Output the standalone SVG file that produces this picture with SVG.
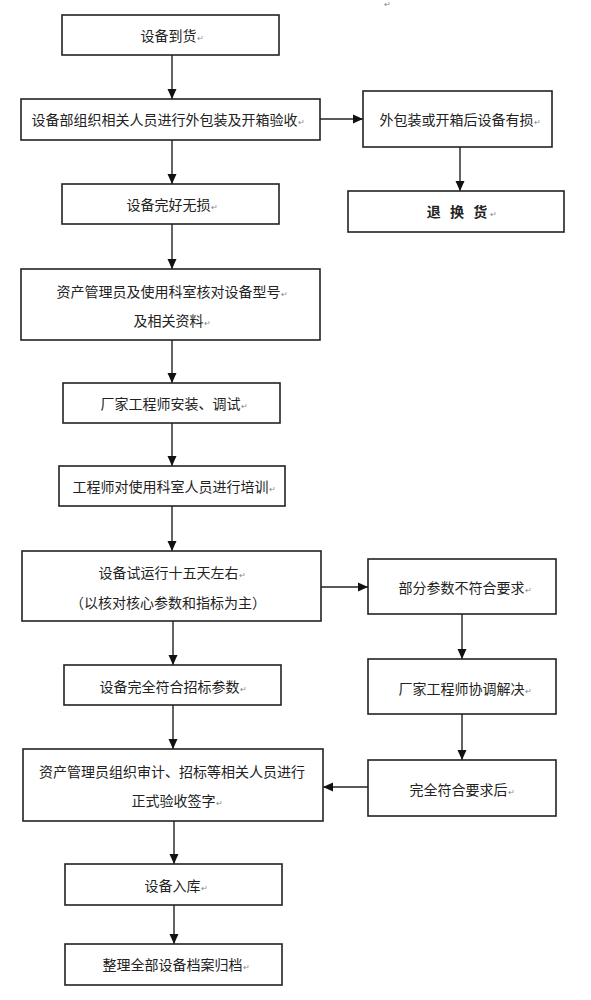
<svg xmlns="http://www.w3.org/2000/svg" width="591" height="1000" viewBox="0 0 591 1000">
<defs>
<marker id="ah" markerWidth="10" markerHeight="10" refX="10" refY="5" orient="auto" markerUnits="userSpaceOnUse">
<path d="M0,0.5 L10,5 L0,9.5 Z" fill="#111"/>
</marker>
<style>
.box{fill:#fff;stroke:#222;stroke-width:1.6}
.t{font-family:"Noto Sans CJK SC","Noto Sans",sans-serif;font-size:14px;fill:#222;text-anchor:middle}
.b{font-weight:bold}
.pm{font-size:8px;fill:#888}
.c{stroke:#222;stroke-width:1.4;fill:none;marker-end:url(#ah)}
</style>
</defs>
<rect width="591" height="1000" fill="#fff"/>
<text x="387" y="7" class="t pm">↵</text>
<g id="connectors">
<line class="c" x1="172" y1="55" x2="172" y2="99"/>
<line class="c" x1="320" y1="119" x2="363" y2="119"/>
<line class="c" x1="460" y1="147" x2="460" y2="191"/>
<line class="c" x1="172" y1="140" x2="172" y2="184"/>
<line class="c" x1="172" y1="224" x2="172" y2="269"/>
<line class="c" x1="172" y1="340" x2="172" y2="383"/>
<line class="c" x1="172" y1="423" x2="172" y2="466"/>
<line class="c" x1="172" y1="506" x2="172" y2="551"/>
<line class="c" x1="321" y1="587" x2="368" y2="587"/>
<line class="c" x1="462" y1="614" x2="462" y2="659"/>
<line class="c" x1="462" y1="714" x2="462" y2="760"/>
<line class="c" x1="368" y1="787" x2="323" y2="787"/>
<line class="c" x1="173" y1="621" x2="173" y2="665"/>
<line class="c" x1="173" y1="705" x2="173" y2="749"/>
<line class="c" x1="174" y1="821" x2="174" y2="864"/>
<line class="c" x1="174" y1="905" x2="174" y2="944"/>
</g>
<g id="n1"><rect class="box" x="62" y="15" width="217" height="40"/><text class="t" x="172" y="41">设备到货<tspan class="pm">↵</tspan></text></g>
<g id="n2"><rect class="box" x="21" y="99" width="299" height="41"/><text class="t" x="168" y="125">设备部组织相关人员进行外包装及开箱验收<tspan class="pm">↵</tspan></text></g>
<g id="n3"><rect class="box" x="363" y="91" width="189" height="56"/><text class="t" x="460" y="125">外包装或开箱后设备有损<tspan class="pm">↵</tspan></text></g>
<g id="n4"><rect class="box" x="348" y="191" width="216" height="41"/><text class="t b" x="462" y="217" letter-spacing="3">退 换 货<tspan class="pm" font-weight="normal" letter-spacing="0">↵</tspan></text></g>
<g id="n5"><rect class="box" x="62" y="184" width="217" height="40"/><text class="t" x="172" y="210">设备完好无损<tspan class="pm">↵</tspan></text></g>
<g id="n6"><rect class="box" x="21" y="269" width="299" height="71"/><text class="t" x="172" y="297">资产管理员及使用科室核对设备型号<tspan class="pm">↵</tspan></text><text class="t" x="172" y="326">及相关资料<tspan class="pm">↵</tspan></text></g>
<g id="n7"><rect class="box" x="63" y="383" width="217" height="40"/><text class="t" x="174" y="409">厂家工程师安装、调试<tspan class="pm">↵</tspan></text></g>
<g id="n8"><rect class="box" x="59" y="466" width="226" height="40"/><text class="t" x="174" y="492">工程师对使用科室人员进行培训<tspan class="pm">↵</tspan></text></g>
<g id="n9"><rect class="box" x="22" y="551" width="299" height="70"/><text class="t" x="172" y="578">设备试运行十五天左右<tspan class="pm">↵</tspan></text><text class="t" x="168" y="608">（以核对核心参数和指标为主）</text></g>
<g id="n10"><rect class="box" x="368" y="559" width="188" height="55"/><text class="t" x="465" y="593">部分参数不符合要求<tspan class="pm">↵</tspan></text></g>
<g id="n11"><rect class="box" x="368" y="659" width="188" height="55"/><text class="t" x="465" y="694">厂家工程师协调解决<tspan class="pm">↵</tspan></text></g>
<g id="n12"><rect class="box" x="368" y="760" width="188" height="56"/><text class="t" x="462" y="795">完全符合要求后<tspan class="pm">↵</tspan></text></g>
<g id="n13"><rect class="box" x="64" y="665" width="217" height="40"/><text class="t" x="173" y="692">设备完全符合招标参数<tspan class="pm">↵</tspan></text></g>
<g id="n14"><rect class="box" x="23" y="749" width="300" height="72"/><text class="t" x="172" y="777">资产管理员组织审计、招标等相关人员进行</text><text class="t" x="177" y="806">正式验收签字<tspan class="pm">↵</tspan></text></g>
<g id="n15"><rect class="box" x="65" y="864" width="217" height="41"/><text class="t" x="176" y="891">设备入库<tspan class="pm">↵</tspan></text></g>
<g id="n16"><rect class="box" x="65" y="944" width="217" height="41"/><text class="t" x="176" y="970">整理全部设备档案归档<tspan class="pm">↵</tspan></text></g>
</svg>
